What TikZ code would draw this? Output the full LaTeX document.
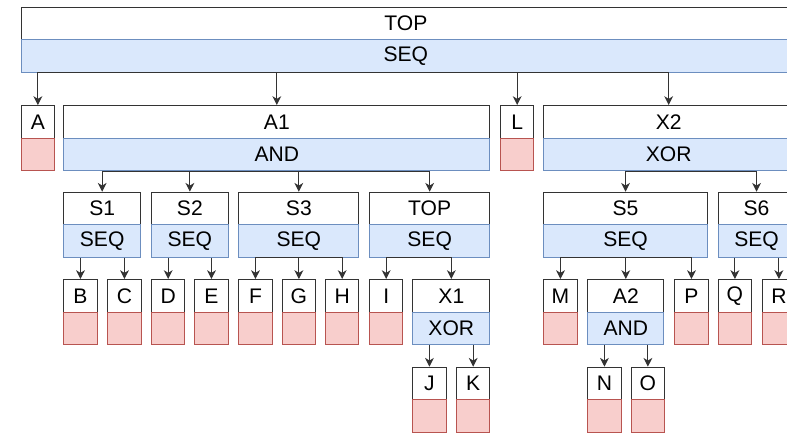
\documentclass[tikz,border=0pt]{standalone}
\usepackage{fontspec}
\setmainfont{Liberation Sans}
\usetikzlibrary{arrows.meta}
\definecolor{opfill}{HTML}{DAE8FC}
\definecolor{opline}{HTML}{6C8EBF}
\definecolor{leaffill}{HTML}{F8CECC}
\definecolor{leafline}{HTML}{B85450}
\tikzset{
  cellbox/.style={anchor=north west, minimum height=0.652cm, inner sep=0pt,
    font=\fontsize{12}{14}\selectfont, line width=0.6pt},
  lblbox/.style={cellbox, draw=black!80, fill=white},
  opbox/.style={cellbox, draw=opline, fill=opfill},
  leafbox/.style={cellbox, draw=leafline, fill=leaffill},
  arr/.style={draw=black!80, line width=0.6pt, -{Stealth[length=5pt,width=5pt,inset=1.5pt]}}
}
% gate: label box over operator box (name, left, right, top, label, operator)
\newcommand{\mkgate}[6]{%
  \node[lblbox, minimum width={(#3-#2)*0.02cm}] (#1) at (#2,#4) {#5};
  \node[opbox, minimum width={(#3-#2)*0.02cm}] (#1op) at (#2,#4+32.6) {#6};}
% leaf: label box over empty red box (name, left, top, label)
\newcommand{\mkleaf}[4]{%
  \node[lblbox, minimum width=0.666cm] (#1) at (#2,#3) {#4};
  \node[leafbox, minimum width=0.666cm] (#1x) at (#2,#3+32.6) {};}
\begin{document}
\begin{tikzpicture}[x=0.02cm, y=-0.02cm]
    \useasboundingbox (0,0) rectangle (787,434);
    % root
    \mkgate{top}{20.7}{790}{6.7}{TOP}{SEQ}
    % second row
    \mkleaf{a}{20.7}{105}{A}
    \mkgate{aone}{63.3}{489.3}{105}{A1}{AND}
    \mkleaf{l}{500}{105}{L}
    \mkgate{xtwo}{543.3}{793}{105}{X2}{XOR}
    % third row
    \mkgate{sone}{63.3}{140}{191.7}{S1}{SEQ}
    \mkgate{stwo}{151}{227.7}{191.7}{S2}{SEQ}
    \mkgate{sthree}{238.3}{358.3}{191.7}{S3}{SEQ}
    \mkgate{subtop}{369}{489.3}{191.7}{TOP}{SEQ}
    \mkgate{sfive}{543.3}{706.7}{191.7}{S5}{SEQ}
    \mkgate{ssix}{717.7}{794.3}{191.7}{S6}{SEQ}
    % fourth row
    \mkleaf{b}{63.3}{279}{B}
    \mkleaf{c}{107.3}{279}{C}
    \mkleaf{d}{151}{279}{D}
    \mkleaf{e}{194.3}{279}{E}
    \mkleaf{f}{238.3}{279}{F}
    \mkleaf{g}{281.7}{279}{G}
    \mkleaf{h}{325}{279}{H}
    \mkleaf{i}{369}{279}{I}
    \mkgate{xone}{412.3}{489.3}{279}{X1}{XOR}
    \mkleaf{m}{543.3}{279}{M}
    \mkgate{atwo}{587.3}{663.3}{279}{A2}{AND}
    \mkleaf{p}{674.3}{279}{P}
    \mkleaf{q}{717.7}{279}{Q}
    \mkleaf{r}{761.7}{279}{R}
    % fifth row
    \mkleaf{j}{412.3}{366.7}{J}
    \mkleaf{k}{456}{366.7}{K}
    \mkleaf{n}{587.3}{366.7}{N}
    \mkleaf{o}{630.7}{366.7}{O}
    % connectors
    \foreach \c in {a,aone,l,xtwo} \draw[arr] (topop.south) -| (\c.north);
    \foreach \c in {sone,stwo,sthree,subtop} \draw[arr] (aoneop.south) -| (\c.north);
    \foreach \c in {sfive,ssix} \draw[arr] (xtwoop.south) -| (\c.north);
    \foreach \c in {b,c} \draw[arr] (\c.north |- soneop.south) -- (\c.north);
    \foreach \c in {d,e} \draw[arr] (\c.north |- stwoop.south) -- (\c.north);
    \foreach \c in {f,g,h} \draw[arr] (sthreeop.south) -| (\c.north);
    \foreach \c in {i,xone} \draw[arr] (subtopop.south) -| (\c.north);
    \foreach \c in {j,k} \draw[arr] (\c.north |- xoneop.south) -- (\c.north);
    \foreach \c in {m,atwo,p} \draw[arr] (sfiveop.south) -| (\c.north);
    \foreach \c in {n,o} \draw[arr] (\c.north |- atwoop.south) -- (\c.north);
    \foreach \c in {q,r} \draw[arr] (\c.north |- ssixop.south) -- (\c.north);
\end{tikzpicture}
\end{document}
